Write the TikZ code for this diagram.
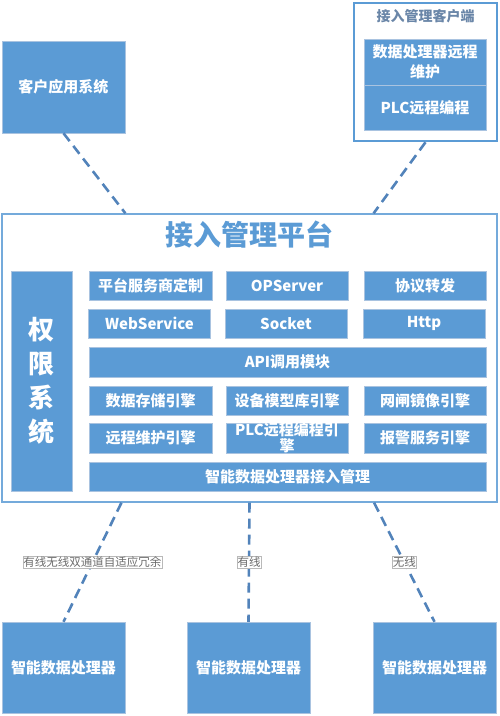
\documentclass[tikz,border=0pt]{standalone}
\usepackage{fontspec}
\setmainfont{Noto Sans CJK SC}
\usetikzlibrary{calc}
\definecolor{boxblue}{HTML}{5B9BD5}
\definecolor{edgeblue}{HTML}{A9C3E0}
\definecolor{linkblue}{HTML}{5283BA}
\definecolor{titlegray}{HTML}{6A86A8}
\begin{document}
\begin{tikzpicture}[x=1pt,y=-1pt,
   blk/.style={draw=edgeblue,fill=boxblue,text=white,inner sep=0pt,align=center,
      font=\bfseries\fontsize{15}{17}\selectfont},
   link/.style={draw=linkblue,line width=2.6pt,dash pattern=on 10pt off 6pt},
   tag/.style={draw=gray!55,solid,line width=0.5pt,fill=white,text=gray!85!black,inner sep=0.6pt,
      font=\fontsize{11.5}{13}\selectfont}]
   \useasboundingbox (0,0) rectangle (500,716);

   % upper systems
   \node[blk,minimum width=123pt,minimum height=92pt] (app) at (63.5,87) {客户应用系统};
   \node[draw=boxblue,line width=2.5pt,fill=white,minimum width=143pt,minimum height=138pt] (cli) at (425.5,72) {};
   \node[text=titlegray,font=\bfseries\fontsize{14}{16}\selectfont] (clit) at (425.5,16) {接入管理客户端};
   \node[blk,minimum width=122pt,minimum height=46pt,font=\bfseries\fontsize{15}{20}\selectfont] (c1) at (425,62) {数据处理器远程\\维护};
   \node[blk,minimum width=122pt,minimum height=45pt] (c2) at (425,107.5) {PLC远程编程};

   % platform
   \node[draw=boxblue!85,line width=1.3pt,fill=white,minimum width=495pt,minimum height=288pt] (plat) at (249.5,358) {};
   \node[text=boxblue,font=\bfseries\fontsize{28}{30}\selectfont] (platt) at (249,235) {接入管理平台};
   \node[blk,minimum width=61pt,minimum height=220pt,font=\bfseries\fontsize{26}{34}\selectfont] (auth) at (41.5,381) {权\\限\\系\\统};

   \node[blk,minimum width=123pt,minimum height=29pt] (m1) at (150.5,285.5) {平台服务商定制};
   \node[blk,minimum width=122pt,minimum height=29pt] (m2) at (287,285.5) {OPServer};
   \node[blk,minimum width=122pt,minimum height=29pt] (m3) at (425,285.5) {协议转发};
   \node[blk,minimum width=122pt,minimum height=29pt] (w1) at (149.5,323.5) {WebService};
   \node[blk,minimum width=122pt,minimum height=29pt] (w2) at (286,323.5) {Socket};
   \node[blk,minimum width=122pt,minimum height=29pt] (w3) at (424,323.5) {Http};
   \node[blk,minimum width=397pt,minimum height=30pt] (api) at (287.5,362) {API调用模块};
   \node[blk,minimum width=123pt,minimum height=29pt] (e1) at (150.5,400.5) {数据存储引擎};
   \node[blk,minimum width=122pt,minimum height=29pt] (e2) at (287,400.5) {设备模型库引擎};
   \node[blk,minimum width=122pt,minimum height=29pt] (e3) at (425,400.5) {网闸镜像引擎};
   \node[blk,minimum width=123pt,minimum height=30pt] (e4) at (150.5,438) {远程维护引擎};
   \node[blk,minimum width=122pt,minimum height=30pt,
      label={[text=white,align=center,font=\bfseries\fontsize{15}{16}\selectfont]center:PLC远程编程引\\擎}] (e5) at (287,438) {};
   \node[blk,minimum width=122pt,minimum height=30pt] (e6) at (425,438) {报警服务引擎};
   \node[blk,minimum width=397pt,minimum height=29pt] (acc) at (287.5,476.5) {智能数据处理器接入管理};

   % processors
   \node[blk,minimum width=123pt,minimum height=91pt] (d1) at (63.5,667.5) {智能数据处理器};
   \node[blk,minimum width=123pt,minimum height=91pt] (d2) at (248.5,667.5) {智能数据处理器};
   \node[blk,minimum width=123pt,minimum height=91pt] (d3) at (434.5,667.5) {智能数据处理器};

   \draw[link] (app.south) -- ($(plat.north west)!0.25!(plat.north east)$);
   \draw[link] (cli.south) -- ($(plat.north west)!0.75!(plat.north east)$);
   \draw[link] ($(plat.south west)!0.242!(plat.south east)$) -- node[tag] {有线无线双通道自适应冗余} (d1.north);
   \draw[link] (plat.south) -- node[tag] {有线} (d2.north);
   \draw[link] ($(plat.south west)!0.751!(plat.south east)$) -- node[tag] {无线} (d3.north);
\end{tikzpicture}
\end{document}
